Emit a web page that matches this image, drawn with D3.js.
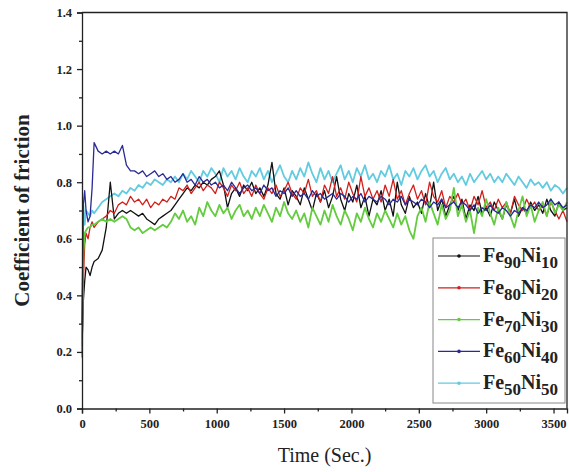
<!DOCTYPE html>
<html>
<head>
<meta charset="utf-8">
<script src="https://cdn.jsdelivr.net/npm/d3@7"></script>
<style>
  body { margin: 0; background: #fff; }
  svg { display: block; }
</style>
</head>
<body>
<div id="chart"></div>
<script>
// DATA (time in seconds, coefficient of friction)
const earlyTimes = [0, 10, 20, 30, 45, 60, 75]
const step = 30   // later samples every 30 s from 90 s to 3600 s
const times = earlyTimes.concat(d3.range(90, 3601, step))

const fe90ni10 = [0.22, 0.38, 0.45, 0.50, 0.49, 0.47, 0.50,
  0.52, 0.53, 0.56, 0.64, 0.80, 0.67, 0.69, 0.70, 0.69, 0.70,
  0.69, 0.68, 0.69, 0.67, 0.66, 0.65, 0.67, 0.68, 0.69, 0.70,
  0.72, 0.74, 0.76, 0.78, 0.77, 0.79, 0.78, 0.80, 0.79, 0.81,
  0.82, 0.84, 0.79, 0.71, 0.76, 0.78, 0.75, 0.79, 0.77, 0.80,
  0.76, 0.78, 0.75, 0.79, 0.87, 0.76, 0.74, 0.78, 0.72, 0.77,
  0.75, 0.72, 0.78, 0.74, 0.70, 0.76, 0.73, 0.77, 0.71, 0.75,
  0.82, 0.74, 0.70, 0.76, 0.73, 0.79, 0.71, 0.75, 0.68, 0.74,
  0.72, 0.77, 0.70, 0.74, 0.68, 0.80, 0.72, 0.69, 0.75, 0.71,
  0.73, 0.69, 0.76, 0.71, 0.80, 0.70, 0.74, 0.68, 0.72, 0.75,
  0.70, 0.74, 0.67, 0.72, 0.70, 0.75, 0.69, 0.71, 0.68, 0.73,
  0.70, 0.67, 0.72, 0.69, 0.74, 0.68, 0.71, 0.69, 0.73, 0.70,
  0.72, 0.69, 0.74, 0.70, 0.68, 0.73, 0.70, 0.71]

const fe80ni20 = [0.20, 0.45, 0.58, 0.62, 0.60, 0.64, 0.66,
  0.64, 0.66, 0.67, 0.68, 0.70, 0.69, 0.72, 0.73, 0.72, 0.75,
  0.73, 0.74, 0.72, 0.74, 0.71, 0.73, 0.72, 0.74, 0.73, 0.75,
  0.74, 0.78, 0.77, 0.79, 0.76, 0.78, 0.80, 0.77, 0.79, 0.78,
  0.76, 0.80, 0.78, 0.75, 0.79, 0.77, 0.80, 0.76, 0.78, 0.75,
  0.79, 0.76, 0.74, 0.78, 0.76, 0.79, 0.75, 0.77, 0.80, 0.76,
  0.74, 0.78, 0.76, 0.81, 0.75, 0.77, 0.73, 0.79, 0.76, 0.82,
  0.75, 0.78, 0.74, 0.80, 0.76, 0.73, 0.82, 0.75, 0.78, 0.74,
  0.77, 0.73, 0.79, 0.75, 0.81, 0.74, 0.77, 0.72, 0.76, 0.79,
  0.74, 0.77, 0.72, 0.80, 0.75, 0.73, 0.77, 0.71, 0.75, 0.73,
  0.76, 0.72, 0.74, 0.70, 0.75, 0.72, 0.77, 0.71, 0.73, 0.70,
  0.74, 0.71, 0.73, 0.69, 0.75, 0.72, 0.70, 0.74, 0.71, 0.73,
  0.70, 0.72, 0.68, 0.73, 0.70, 0.67, 0.70, 0.66]

const fe70ni30 = [0.18, 0.55, 0.62, 0.63, 0.64, 0.64, 0.65,
  0.65, 0.66, 0.67, 0.66, 0.67, 0.66, 0.67, 0.68, 0.67, 0.64,
  0.63, 0.64, 0.62, 0.63, 0.64, 0.63, 0.64, 0.65, 0.64, 0.66,
  0.69, 0.67, 0.70, 0.66, 0.68, 0.65, 0.71, 0.68, 0.73, 0.70,
  0.68, 0.72, 0.69, 0.71, 0.67, 0.70, 0.72, 0.68, 0.70, 0.67,
  0.71, 0.68, 0.72, 0.69, 0.66, 0.71, 0.68, 0.73, 0.69, 0.67,
  0.70, 0.66, 0.69, 0.64, 0.71, 0.68, 0.65, 0.70, 0.66, 0.72,
  0.68, 0.65, 0.70, 0.67, 0.63, 0.69, 0.66, 0.71, 0.67, 0.64,
  0.69, 0.66, 0.70, 0.67, 0.64, 0.69, 0.65, 0.68, 0.63, 0.60,
  0.68, 0.71, 0.66, 0.73, 0.69, 0.65, 0.72, 0.67, 0.70, 0.78,
  0.68, 0.72, 0.66, 0.70, 0.62, 0.71, 0.68, 0.74, 0.69, 0.65,
  0.71, 0.67, 0.73, 0.68, 0.64, 0.70, 0.75, 0.68, 0.72, 0.66,
  0.70, 0.73, 0.68, 0.74, 0.69, 0.72, 0.70, 0.73]

const fe60ni40 = [0.30, 0.72, 0.77, 0.70, 0.66, 0.68, 0.78,
  0.94, 0.91, 0.90, 0.91, 0.90, 0.91, 0.90, 0.93, 0.86, 0.84,
  0.84, 0.83, 0.84, 0.82, 0.83, 0.84, 0.82, 0.83, 0.81, 0.82,
  0.80, 0.81, 0.83, 0.80, 0.81, 0.79, 0.82, 0.80, 0.81, 0.79,
  0.80, 0.78, 0.79, 0.77, 0.80, 0.78, 0.76, 0.78, 0.79, 0.77,
  0.78, 0.76, 0.79, 0.77, 0.78, 0.75, 0.77, 0.76, 0.78, 0.75,
  0.77, 0.75, 0.76, 0.74, 0.77, 0.75, 0.76, 0.74, 0.75, 0.76,
  0.74, 0.76, 0.75, 0.73, 0.75, 0.74, 0.76, 0.73, 0.75, 0.74,
  0.73, 0.75, 0.74, 0.72, 0.74, 0.73, 0.75, 0.72, 0.74, 0.73,
  0.72, 0.74, 0.73, 0.71, 0.73, 0.72, 0.74, 0.71, 0.72, 0.73,
  0.71, 0.73, 0.72, 0.70, 0.72, 0.69, 0.71, 0.70, 0.72, 0.70,
  0.69, 0.71, 0.70, 0.68, 0.70, 0.69, 0.71, 0.70, 0.72, 0.71,
  0.73, 0.71, 0.72, 0.74, 0.72, 0.73, 0.71, 0.72]

const fe50ni50 = [0.25, 0.72, 0.65, 0.70, 0.69, 0.68, 0.70,
  0.69, 0.71, 0.73, 0.74, 0.75, 0.76, 0.75, 0.77, 0.76, 0.78,
  0.77, 0.79, 0.78, 0.80, 0.79, 0.81, 0.80, 0.79, 0.81, 0.80,
  0.82, 0.80, 0.83, 0.81, 0.84, 0.82, 0.80, 0.84, 0.82, 0.85,
  0.83, 0.80, 0.85, 0.82, 0.84, 0.81, 0.85, 0.82, 0.80, 0.84,
  0.82, 0.85, 0.81, 0.84, 0.80, 0.83, 0.86, 0.82, 0.80, 0.84,
  0.81, 0.85, 0.82, 0.87, 0.83, 0.80, 0.85, 0.81, 0.84, 0.80,
  0.83, 0.86, 0.81, 0.84, 0.80, 0.85, 0.82, 0.86, 0.81, 0.83,
  0.80, 0.84, 0.82, 0.86, 0.81, 0.83, 0.79, 0.84, 0.82, 0.85,
  0.81, 0.84, 0.86, 0.82, 0.84, 0.80, 0.83, 0.85, 0.81, 0.83,
  0.80, 0.82, 0.79, 0.83, 0.80, 0.82, 0.84, 0.81, 0.83, 0.80,
  0.82, 0.80, 0.83, 0.81, 0.79, 0.82, 0.80, 0.78, 0.81, 0.79,
  0.80, 0.78, 0.80, 0.77, 0.79, 0.78, 0.76, 0.78]

const seriesNames = [["90", "10"], ["80", "20"], ["70", "30"], ["60", "40"], ["50", "50"]]
const seriesValues = [fe90ni10, fe80ni20, fe70ni30, fe60ni40, fe50ni50]
const seriesColors = ["#111111", "#d0201c", "#62cc3e", "#2a2a96", "#62cbe0"]
const drawOrder = [4, 0, 1, 2, 3]

const xTicks = [0, 500, 1000, 1500, 2000, 2500, 3000, 3500]
const yTicks = [0.0, 0.2, 0.4, 0.6, 0.8, 1.0, 1.2, 1.4]

const width = 569, height = 472
const plotLeft = 82, plotRight = 567, plotTop = 12.5, plotBottom = 408.5
const serif = "Liberation Serif, DejaVu Serif, serif"

// SCALES
const xScale = d3.scaleLinear().domain([0, 3600]).range([plotLeft, plotRight])
const yScale = d3.scaleLinear().domain([0, 1.4]).range([plotBottom, plotTop])

const svg = d3.select("#chart")
    .append("svg")
    .attr("width", width)
    .attr("height", height)

// LINES
const line = d3.line()
    .x((d, i) => xScale(times[i]))
    .y(d => yScale(d))

svg.append("g")
    .selectAll("path")
    .data(drawOrder)
    .join("path")
    .attr("d", k => line(seriesValues[k]))
    .attr("fill", "none")
    .attr("stroke", k => seriesColors[k])
    .attr("stroke-width", k => (k == 2 || k == 4) ? 1.8 : 1.3)
    .attr("stroke-linejoin", "round")

// FRAME (top and right)
svg.append("path")
    .attr("d", `M${plotLeft},${plotTop}H${plotRight}V${plotBottom}`)
    .attr("fill", "none")
    .attr("stroke", "#222")
    .attr("stroke-width", 1.3)

// AXES
const xAxis = d3.axisBottom(xScale).tickValues(xTicks).tickSize(5).tickPadding(6)
    .tickFormat(d3.format("d"))
const yAxis = d3.axisLeft(yScale).tickValues(yTicks).tickSize(5).tickPadding(5)
    .tickFormat(d3.format(".1f"))

const gx = svg.append("g")
    .attr("transform", `translate(0,${plotBottom})`)
    .call(xAxis)
const gy = svg.append("g")
    .attr("transform", `translate(${plotLeft},0)`)
    .call(yAxis)

// minor ticks
const xMinor = d3.axisBottom(xScale).tickValues(xTicks.map(d => d + 250)).tickSize(3).tickFormat("")
const yMinor = d3.axisLeft(yScale).tickValues(yTicks.slice(0, -1).map(d => d + 0.1)).tickSize(3).tickFormat("")
svg.append("g").attr("transform", `translate(0,${plotBottom})`).call(xMinor).select(".domain").remove()
svg.append("g").attr("transform", `translate(${plotLeft},0)`).call(yMinor).select(".domain").remove()

svg.selectAll(".domain, .tick line")
    .attr("stroke", "#222")
    .attr("stroke-width", 1.3)

;[gx, gy].forEach(g => {
    g.attr("font-family", serif).attr("font-size", 12.5).attr("font-weight", "bold")
    g.selectAll("text").attr("fill", "#222")
})

// AXIS TITLES
svg.append("text")
    .attr("x", (plotLeft + plotRight) / 2)
    .attr("y", 462)
    .attr("text-anchor", "middle")
    .attr("font-family", serif)
    .attr("font-size", 20)
    .attr("fill", "#222")
    .text("Time (Sec.)")

svg.append("text")
    .attr("transform", `translate(29,${(plotTop + plotBottom) / 2}) rotate(-90)`)
    .attr("text-anchor", "middle")
    .attr("font-family", serif)
    .attr("font-weight", "bold")
    .attr("font-size", 21)
    .attr("fill", "#222")
    .text("Coefficient of friction")

// LEGEND
const legend = svg.append("g")
legend.append("rect")
    .attr("x", 433).attr("y", 238)
    .attr("width", 132).attr("height", 165)
    .attr("fill", "#fff")
    .attr("stroke", "#888")
    .attr("stroke-width", 1)

const items = legend.selectAll("g.item")
    .data(d3.range(seriesNames.length))
    .join("g")
    .attr("class", "item")
    .attr("transform", i => `translate(0,${256 + i * 31.8})`)

items.append("line")
    .attr("x1", 438).attr("x2", 480)
    .attr("stroke", i => seriesColors[i])
    .attr("stroke-width", 1.2)
items.append("circle")
    .attr("cx", 459).attr("r", 1.8)
    .attr("fill", i => seriesColors[i])

const label = items.append("text")
    .attr("x", 483).attr("y", 6)
    .attr("font-family", serif)
    .attr("font-weight", "bold")
    .attr("font-size", 20)
    .attr("fill", "#222")
label.append("tspan").text("Fe")
label.append("tspan").attr("dy", 6).attr("font-size", 17).text(i => seriesNames[i][0])
label.append("tspan").attr("dy", -6).text("Ni")
label.append("tspan").attr("dy", 6).attr("font-size", 17).text(i => seriesNames[i][1])
</script>
</body>
</html>
